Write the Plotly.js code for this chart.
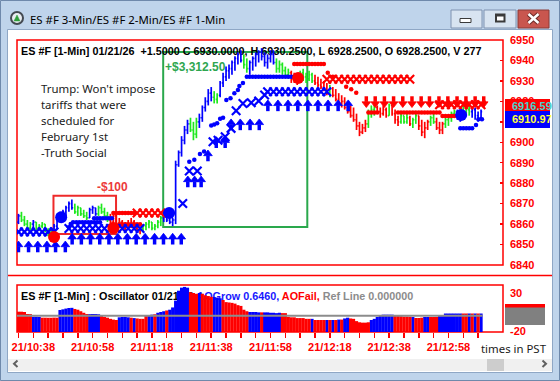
<!DOCTYPE html>
<html>
<head>
<meta charset="utf-8">
<script src="https://cdn.plot.ly/plotly-3.0.1.min.js"></script>
<style>
html,body{margin:0;padding:0;background:#bfd4eb;overflow:hidden;}
#chart{width:560px;height:381px;}
</style>
</head>
<body>
<div id="chart"></div>
<script>
// ================= DATA =================
const windowTitle = 'ES #F 3-Min/ES #F 2-Min/ES #F 1-Min';
const priceHeader = 'ES #F [1-Min] 01/21/26\u00a0 +1.5000 C 6930.0000, H 6930.2500, L 6928.2500, O 6928.2500, V 277';
const oscName = 'ES #F [1-Min] : Oscillator 01/21/26';
const oscGrowLabel = 'AOGrow 0.6460,';
const oscFailLabel = 'AOFail,';
const oscRefLabel = 'Ref Line 0.000000';
const newsLines = ["Trump: Won't impose", 'tariffs that were', 'scheduled for', 'February 1st', '-Truth Social'];
const timezoneNote = 'times in PST';
const sessionStart = '10:33';
const timeTickLabels = ['21/10:38','21/10:58','21/11:18','21/11:38','21/11:58','21/12:18','21/12:38','21/12:58'];
const oscScaleTicks = [30, -20];
const lastValues = ['6916.59', '6910.97'];

// 1-minute bars (one per minute from sessionStart)
const barOpen = [
6861,6864,6862,6860,6858,6860,6861,6858,6859,6860,
6857,6855,6856,6859,6864,6862,6866,6868,6870,6868,
6866,6868,6865,6864,6863,6867,6868,6865,6868,6866,
6864,6862,6861,6864,6860,6861,6858,6860,6859,6861,
6858,6857,6858,6859,6860,6861,6858,6859,6861,6863,
6865,6862,6861,6862,6889,6895,6901,6906,6909,6906,
6904,6910,6912,6917,6920,6924,6922,6921,6923,6929,
6932,6935,6936,6939,6941,6943,6940,6938,6936,6939,
6941,6943,6944,6942,6939,6941,6943,6939,6936,6938,
6935,6933,6934,6931,6932,6930,6934,6932,6931,6933,
6930,6929,6928,6927,6926,6924,6926,6923,6921,6919,
6920,6917,6915,6913,6911,6908,6905,6907,6909,6914,
6916,6917,6915,6914,6916,6913,6918,6914,6911,6910,
6913,6910,6912,6909,6911,6913,6908,6905,6907,6910,
6912,6910,6907,6906,6909,6911,6912,6914,6915,6913,
6914,6917,6916,6915,6916,6913,6912];
const barHigh = [
6865,6866,6864,6862,6861,6862,6861,6860,6861,6860,
6858,6857,6860,6865,6866,6867,6869,6871,6872,6870,
6869,6868,6867,6866,6868,6869,6868,6869,6870,6868,
6866,6865,6866,6865,6863,6862,6861,6862,6863,6862,
6860,6859,6860,6861,6862,6861,6860,6862,6864,6866,
6866,6865,6863,6891,6896,6903,6908,6911,6912,6910,
6912,6914,6918,6922,6926,6927,6925,6924,6930,6934,
6937,6938,6940,6942,6944,6945,6943,6941,6940,6942,
6944,6945,6946,6944,6943,6945,6945,6941,6940,6939,
6937,6936,6935,6934,6933,6935,6936,6934,6935,6934,
6933,6932,6931,6930,6929,6928,6927,6926,6924,6923,
6922,6920,6918,6917,6914,6910,6909,6911,6916,6918,
6919,6918,6917,6918,6917,6919,6918,6916,6913,6914,
6913,6914,6913,6912,6914,6913,6911,6910,6911,6913,
6914,6912,6910,6910,6912,6913,6915,6916,6916,6915,
6918,6919,6918,6917,6917,6915,6916];
const barLow = [
6860,6861,6859,6857.5,6857,6858,6857,6857,6858,6856,
6854,6853.5,6854,6858,6861,6862,6864,6866,6867,6865,
6864,6864,6863,6862,6863,6865,6864,6864,6865,6863,
6861,6860,6859,6858,6858,6857,6857,6858,6858,6857,
6856,6855,6856,6857,6858,6857,6857,6858,6859,6861,
6861,6860,6859,6860,6888,6893,6899,6904,6905,6901,
6902,6907,6910,6915,6918,6920,6919,6919,6922,6927,
6930,6931,6933,6935,6938,6939,6936,6934,6933,6935,
6937,6939,6940,6937,6936,6939,6938,6934,6934,6933,
6932,6931,6929,6929,6928,6929,6930,6929,6930,6929,
6928,6927,6926,6925,6923,6922,6922,6920,6918,6917,
6916,6914,6912,6910,6906,6903,6904,6905,6907,6912,
6913,6914,6912,6913,6912,6913,6913,6909,6908,6909,
6909,6909,6908,6907,6909,6906,6903,6902,6906,6908,
6909,6906,6904,6904,6907,6908,6910,6912,6911,6910,
6913,6914,6913,6912,6911,6910,6911];
const barClose = [
6864,6862,6860,6858,6860,6861,6858,6859,6860,6857,
6855,6856,6859,6864,6862,6866,6868,6870,6868,6866,
6868,6865,6864,6863,6867,6868,6865,6868,6866,6864,
6862,6861,6864,6860,6861,6858,6860,6859,6861,6858,
6857,6858,6859,6860,6861,6858,6859,6861,6863,6865,
6862,6861,6862,6889,6895,6901,6906,6909,6906,6904,
6910,6912,6917,6920,6924,6922,6921,6923,6929,6932,
6935,6936,6939,6941,6943,6940,6938,6936,6939,6941,
6943,6944,6942,6939,6941,6943,6939,6936,6938,6935,
6933,6934,6931,6932,6930,6934,6932,6931,6933,6930,
6929,6928,6927,6926,6924,6926,6923,6921,6919,6920,
6917,6915,6913,6911,6908,6905,6907,6909,6914,6916,
6917,6915,6914,6916,6913,6918,6914,6911,6910,6913,
6910,6912,6909,6911,6913,6908,6905,6907,6910,6912,
6910,6907,6906,6909,6911,6912,6914,6915,6913,6914,
6917,6916,6915,6916,6913,6912,6915];
// bar state: b = strong up, g = up, r = down
const barState = (
'bggggbgggg'+'ggbbbbbbbg'+'ggggbbbggg'+'grrrrrrrrr'+'rrgggggggb'+
'bbbbbbbbgg'+'gbbbbbggbb'+'bbbbbbggbb'+'bbbbbbbggg'+'ggrrrggggg'+
'rrrrrgrrrr'+'rrrrrrrrgg'+'grrrrgrrrg'+'ggrggrrrrg'+'grrrggggbb'+
'gggbbbb').split('');

// oscillator
const oscValue = [
5.4,5.4,5,2.4,2.2,-1.2,-1.2,-1.4,-2.5,-2.5,
-2.6,-2.6,-2.4,-2.5,7.6,8.5,9.5,10.3,10.5,9,
8,6,4,2.4,2.2,2.4,2.3,2,0,-1.5,
-2.5,-4,-5,-5.5,-2,-1.5,-1.5,-2,-2.5,-3,
-3.5,-4,-4,0.5,1,1.5,2,4,5,6,
7,8,11,20,33,37,38,37,31,30,
29,30,29,27,26,25,24.7,24,23,20.8,
18,17.5,17,16,14,13,8,6,5,5,
5,4.5,4.5,4.5,4.5,4,4,3.5,4,3.5,
3.5,-1.5,-2,-2,-3,-3,-3,-4,-4,-4,
-5.5,-5.5,-5.5,-5.5,-5.5,-5.5,-5.5,-5.5,-5,-5,
-3.5,-2.5,-3.5,-4,-7,-8.5,-9,-9,-8.5,-5.5,
-4,-1.5,0.5,1.5,1.5,1.5,1.5,1,-0.3,-0.5,
-1,-1,-1.2,-1.6,-2.9,-2.9,-2.5,-1.6,-1.6,-1.6,
-1.6,-1.5,-0.3,0,3,3,3,3,3,3,
3,3,3,3,3,3,3];
const oscState = (
'rrrrrbbbrr'+'rrrrbbbbbr'+'rrrrbbbbrr'+'rrrrbbbbrb'+'rrrrbbrbbb'+
'rbbbbbbbrr'+'rbrrrrbbbr'+'rrrrrrrrbb'+'bbrbbbbbbr'+'rrrrrrrrrb'+
'rrrrbrbrbr'+'bbrrrrrrrb'+'bbbbbbbrrr'+'rrrbrrrbbr'+'rrbbbbbbbb'+
'rrbrbrb').split('');

// signal markers (minute, price)
const buyArrowTime = [0,3.4,6.5,9.6,12.5,15.8, 18.1,21.2,24.3,27.4,30.5,33.5,36.7,39.7,42.7,45.9,48.9,52,54.9,
  57.1,59.4,61.6, 63.9,66.7,69.7, 71.7,74.8,78.1,81.2, 84.1,87.5,90.9,94.2,97.6,101,104.4,107.8,111.2];
const buyArrowPrice = [6851.7,6851.7,6851.7,6851.7,6851.7,6851.7,
  6855.5,6855.5,6855.5,6855.5,6855.5,6855.5,6855.5,6855.5,6855.5,6855.5,6855.5,6855.5,6855.5,
  6883.5,6883.5,6883.5, 6896.2,6902.7,6902.7, 6911.4,6911.4,6911.4,6911.4,
  6920.7,6920.7,6920.7,6920.7,6920.7,6920.7,6920.7,6920.7,6920.7];
const sellArrowTime = [117.3,120.3,123.4,126.5,129.6,132.7,135.8,138.6,141.8,144.8,147.9,150.9,154,156.9];
const sellArrowPrice = [6917,6917,6917,6917,6917,6917,6917,6917,6917,6917,6917,6917,6917,6917];

const blueCrossTime = [0,2,4,6,8,10,12, 17,19,21,23,25,27,29,31,33,35,37,39,41,
  55.4,57.6,60.3,65.6,67.3,69.7,71.7,73.4,75.7,78.5,81,83,
  84,86,88,90,92,94,96,98,100,102,104];
const blueCrossPrice = [6856.2,6856.2,6856.2,6856.2,6856.2,6856.2,6856.2,
  6857.8,6857.8,6857.8,6857.8,6857.8,6857.8,6857.8,6857.8,6857.8,6857.8,6857.8,6857.8,6857.8,
  6870.1,6886,6886,6900.3,6901,6902.7,6906.8,6915.4,6919,6919.3,6920.2,6923.1,
  6924.7,6924.7,6924.7,6924.7,6924.7,6924.7,6924.7,6924.7,6924.7,6924.7,6924.7];
const redCrossTime = [40,42,44,46,48, 104,106,108,110,112,114,116,118,120,122,124,126,128,130,132,
  142,144,146,148,150,152,154,156];
const redCrossPrice = [6865.4,6865.4,6865.4,6865.4,6865.4,
  6930.8,6930.8,6930.8,6930.8,6930.8,6930.8,6930.8,6930.8,6930.8,6930.8,6930.8,6930.8,6930.8,6930.8,6930.8,
  6918.3,6918.3,6918.3,6918.3,6918.3,6918.3,6918.3,6918.3];

const blueDotTime = [17,17.6,18.4,19.5,20.5,21.5,22.5,23.5,24.5,25.5,26.5,27.5,
  25.5,26.5,27.5,28.5,29.5,30.5,31.5,
  57.6,59.3,61.2,62.6,65,66,67,68,69,70.1,71.5,72.8,74,74.5,75.7,
  77,78,79,80,81,82,83,84,85,86,87,88,89,90,91,92,93,
  149,150,151,152,153,154.3,155.1,156.3];
const blueDotPrice = [6858.5,6860,6860.9,6860.9,6860.9,6860.9,6860.9,6860.9,6860.9,6860.9,6860.9,6860.9,
  6862.8,6862.8,6862.8,6862.8,6862.8,6862.8,6862.8,
  6890.5,6891.5,6894.3,6895.5,6908.2,6908.7,6909.3,6911.5,6912,6920.7,6921.5,6924,6925.5,6927.5,6929,
  6932,6932,6932,6932,6932,6932,6932,6932,6932,6932,6932,6932,6932,6932,6932,6932,6932,
  6906.8,6906.8,6906.8,6906.8,6906.8,6908.4,6911.2,6911.2];
const redDotTime = [32,33,34,35,36,37,38,39, 34,35,36,37,38,39,40,41,
  93,94,95,96,97,98,99,100,101,102,103,
  104.3,106,110.5,112.2,113.9,
  118,119,120,121, 128,129,130,131,132,133,134,135,136,137,138,139,140,141,142,
  143,144,145,146,147];
const redDotPrice = [6865.4,6865.4,6865.4,6865.4,6865.4,6865.4,6865.4,6865.4,
  6859.9,6859.9,6859.9,6859.9,6859.9,6859.9,6859.9,6859.9,
  6938.3,6938.3,6938.3,6938.3,6938.3,6938.3,6938.3,6938.3,6938.3,6938.3,6938.3,
  6934,6932,6927.2,6925.9,6924.2,
  6914.5,6914.5,6914.5,6914.5, 6914.5,6914.5,6914.5,6914.5,6914.5,6914.5,6914.5,6914.5,6914.5,6914.5,6914.5,6914.5,6914.5,6914.5,6914.5,
  6912.8,6912.8,6912.8,6912.8,6912.8];

const exitSignalTime = [12, 32, 94.3];
const exitSignalPrice = [6853.7, 6858.1, 6931.4];
const entrySignalTime = [14.4, 50.8, 149.3];
const entrySignalPrice = [6863.4, 6865.4, 6913.3];

// trades
const tradeStart = [11.8, 48.8];
const tradeEnd = [32.9, 97.4];
const tradeTop = [6873.9, 6944.1];
const tradeBottom = [6855.1, 6858.6];
const tradeResult = ['-$100', '+$3,312.50'];

// ================= GEOMETRY / STYLE =================
const W = 560, H = 381;
const PX = {l: 17, r: 503, mainT: 40, mainB: 265, oscT: 285, oscB: 332};
const xRange = [-0.5, 163.4];
const priceRange = [6840, 6950];
const oscRange = [-21.3, 40.5];
const BLUE = '#0000ff', GREEN = '#1ee81e', RED = '#ff0000';
const BOLD = 'Liberation Sans, Arial, sans-serif';
const UI = 'Segoe UI, Noto Sans, Open Sans, sans-serif';

const px2x = v => v / W;
const py2y = v => 1 - v / H;
const tAt = px => xRange[0] + (px - PX.l) / (PX.r - PX.l) * (xRange[1] - xRange[0]);
const pAt = py => priceRange[1] - (py - PX.mainT) / (PX.mainB - PX.mainT) * (priceRange[1] - priceRange[0]);
const oAt = py => oscRange[1] - (py - PX.oscT) / (PX.oscB - PX.oscT) * (oscRange[1] - oscRange[0]);
const pricePerPx = (priceRange[1] - priceRange[0]) / (PX.mainB - PX.mainT);
const minPerPx = (xRange[1] - xRange[0]) / (PX.r - PX.l);

const minute = barOpen.map((_, i) => i);
const toMin = s => { const [h, m] = s.split(':').map(Number); return h * 60 + m; };
const startMin = toMin(sessionStart);
const labelAt = {};
timeTickLabels.forEach(l => { labelAt[toMin(l.split('/')[1]) - startMin] = l; });
const tickVals = [];
for (let m = 0; m <= 155; m += 5) tickVals.push(m);
const tickText = tickVals.map(m => labelAt[m] || '');

// ================= TRACES =================
const traces = [];
function seg(xs, ys, color, width, xa, ya) {
  return {type: 'scatter', mode: 'lines', xaxis: xa, yaxis: ya, x: xs, y: ys, connectgaps: false,
    line: {color, width}, hoverinfo: 'skip'};
}
// header texts (drawn first, beneath the marks)
traces.push({type: 'scatter', mode: 'text', xaxis: 'x2', yaxis: 'y', x: [tAt(21)], y: [pAt(52.5)],
  text: ['<b>' + priceHeader + '</b>'], textposition: 'middle right', cliponaxis: false, hoverinfo: 'skip',
  textfont: {family: BOLD, size: 10.8, color: '#000000'}});
traces.push({type: 'scatter', mode: 'text', xaxis: 'x', yaxis: 'y2', x: [tAt(21)], y: [oAt(297.5)],
  text: ['<b>' + oscName + ' <span style="color:#1818ff">' + oscGrowLabel + '</span> <span style="color:#ff0000">' +
    oscFailLabel + '</span> <span style="color:#8c8c8c">' + oscRefLabel + '</span></b>'],
  textposition: 'middle right', cliponaxis: false, hoverinfo: 'skip',
  textfont: {family: BOLD, size: 10.8, color: '#000000'}});

// price bars (high-low stem, open tick left, close tick right) by state
const tickHalf = 1.1 * minPerPx;
[['b', BLUE], ['g', GREEN], ['r', RED]].forEach(([s, c]) => {
  const xs = [], ys = [];
  minute.forEach(i => {
    if (barState[i] !== s) return;
    xs.push(i, i, null, i - tickHalf, i, null, i, i + tickHalf, null);
    ys.push(barLow[i], barHigh[i], null, barOpen[i], barOpen[i], null, barClose[i], barClose[i], null);
  });
  traces.push(seg(xs, ys, c, 1.7, 'x2', 'y'));
});

function pts(x, y, marker) {
  return {type: 'scatter', mode: 'markers', xaxis: 'x2', yaxis: 'y', x, y, marker, hoverinfo: 'skip', cliponaxis: true};
}
traces.push(pts(blueDotTime, blueDotPrice, {symbol: 'circle', size: 4.5, color: BLUE, line: {width: 0}}));
traces.push(pts(redDotTime, redDotPrice, {symbol: 'circle', size: 4.5, color: RED, line: {width: 0}}));
traces.push(pts(blueCrossTime, blueCrossPrice, {symbol: 'x-thin', size: 8.5, line: {width: 2.2, color: BLUE}}));
traces.push(pts(redCrossTime, redCrossPrice, {symbol: 'x-thin', size: 8.5, line: {width: 2.2, color: RED}}));
// arrows: head triangle + stem
const headSize = 7.5, headR = headSize / 2;
const headOff = headR * pricePerPx;
const stemOff = (headR * 1.5 + 2.8) * pricePerPx;
traces.push(pts(buyArrowTime, buyArrowPrice.map(p => p - stemOff), {symbol: 'line-ns', size: 4, line: {width: 3.5, color: BLUE}}));
traces.push(pts(buyArrowTime, buyArrowPrice.map(p => p - headOff), {symbol: 'triangle-up', size: headSize, color: BLUE, line: {width: 0.8, color: BLUE}}));
traces.push(pts(sellArrowTime, sellArrowPrice.map(p => p + stemOff), {symbol: 'line-ns', size: 4, line: {width: 3.5, color: RED}}));
traces.push(pts(sellArrowTime, sellArrowPrice.map(p => p + headOff), {symbol: 'triangle-down', size: headSize, color: RED, line: {width: 0.8, color: RED}}));
traces.push(pts(exitSignalTime, exitSignalPrice, {symbol: 'circle', size: 12, color: RED, line: {width: 0}}));
traces.push(pts(entrySignalTime, entrySignalPrice, {symbol: 'circle', size: 12, color: BLUE, line: {width: 0}}));

// oscillator histogram as vertical strokes from the panel bottom
const barPx = 1 / minPerPx;
[['b', BLUE], ['r', RED]].forEach(([s, c]) => {
  const xs = [], ys = [];
  minute.forEach(i => {
    if (oscState[i] !== s) return;
    xs.push(i, i, null);
    ys.push(oscRange[0], oscValue[i], null);
  });
  traces.push(seg(xs, ys, c, barPx + 0.2, 'x', 'y2'));
});

// ================= SHAPES =================
function rectPx(x0, y0, x1, y1, fill, line, lw, layer) {
  return {type: 'rect', xref: 'paper', yref: 'paper', x0: px2x(x0), x1: px2x(x1), y0: py2y(y1), y1: py2y(y0),
    fillcolor: fill || 'rgba(0,0,0,0)', line: {color: line || 'rgba(0,0,0,0)', width: line ? (lw || 1) : 0}, layer: layer || 'below'};
}
function linePx(x0, y0, x1, y1, color, w, layer) {
  return {type: 'line', xref: 'paper', yref: 'paper', x0: px2x(x0), x1: px2x(x1), y0: py2y(y0), y1: py2y(y1),
    line: {color, width: w}, layer: layer || 'below'};
}
function pathPx(points, color, w, fill, layer) {
  const d = points.map((p, i) => (i ? 'L' : 'M') + px2x(p[0]).toFixed(5) + ',' + py2y(p[1]).toFixed(5)).join(' ') + (fill ? ' Z' : '');
  return {type: 'path', xref: 'paper', yref: 'paper', path: d, line: {color, width: w}, fillcolor: fill || 'rgba(0,0,0,0)', layer: layer || 'below'};
}
const shapes = [
  rectPx(8, 30, 552, 372, '#ffffff'),
  rectPx(7.5, 29.5, 552.5, 372.5, null, '#8fa7c5', 1),
  rectPx(0.5, 0.5, 559.5, 380.5, null, '#6f89ab', 1),
  linePx(8, 275.5, 552, 275.5, RED, 1.5),
  rectPx(PX.l, PX.mainT, PX.r, PX.mainB, null, RED, 1.5),
  rectPx(PX.l, PX.oscT, PX.r, PX.oscB, null, RED, 1.5),
  rectPx(8, 359, 552, 371, '#f0f0f0'),
  rectPx(487, 359, 504, 371, '#cdcdcd'),
  pathPx([[17.5, 360.5], [14, 363.7], [17.5, 367]], '#606060', 2),
  pathPx([[542.5, 360.5], [546, 363.7], [542.5, 367]], '#606060', 2),
  rectPx(505, 304, 545, 325, '#808080'),
  rectPx(505, 304, 545, 307.5, RED),
  rectPx(505, 99, 550, 111, RED, null, 0, 'above'),
  rectPx(505, 111, 550, 128, BLUE, null, 0, 'above'),
  // caption buttons
  rectPx(451, 10, 482, 28, '#d8e4f1', '#7e92b0', 1),
  rectPx(484, 10, 516, 28, '#d8e4f1', '#7e92b0', 1),
  rectPx(518, 10, 549, 28, '#c9564e', '#8b3a36', 1),
  rectPx(460, 18.5, 471, 22.5, '#ffffff', '#3a3a3a', 1),
  rectPx(495, 13.5, 505.5, 22.5, '#3a3a3a'),
  rectPx(497, 16.5, 503.5, 20.5, '#ffffff'),
  pathPx([[528.5, 14], [538.5, 23]], '#6b2a26', 4.5),
  pathPx([[538.5, 14], [528.5, 23]], '#6b2a26', 4.5),
  pathPx([[528.5, 14], [538.5, 23]], '#ffffff', 2.5),
  pathPx([[538.5, 14], [528.5, 23]], '#ffffff', 2.5),
  // app icon
  {type: 'circle', xref: 'paper', yref: 'paper', x0: px2x(10), x1: px2x(24), y0: py2y(25), y1: py2y(11), fillcolor: '#434951', line: {width: 0}, layer: 'below'},
  {type: 'circle', xref: 'paper', yref: 'paper', x0: px2x(12), x1: px2x(22), y0: py2y(23), y1: py2y(13), fillcolor: '#e8ecf0', line: {width: 0}, layer: 'below'},
  pathPx([[14, 21], [17, 15], [20, 21]], '#2f9e3a', 0.5, '#2f9e3a'),
  // oscillator reference line
  {type: 'line', xref: 'x', yref: 'y2', x0: xRange[0], x1: minute[minute.length - 1] + 0.5, y0: 0, y1: 0,
    line: {color: '#8c8c8c', width: 2}, layer: 'above'}
];
tradeStart.forEach((t, i) => {
  shapes.push({type: 'rect', xref: 'x2', yref: 'y', x0: t, x1: tradeEnd[i], y0: tradeBottom[i], y1: tradeTop[i],
    line: {color: i === 0 ? '#ee2a2a' : '#2aa84c', width: 2}, fillcolor: 'rgba(0,0,0,0)', layer: 'below'});
});

// ================= ANNOTATIONS =================
function label(text, x, y, font, anchor) {
  return {xref: 'paper', yref: 'paper', x: px2x(x), y: py2y(y), text, showarrow: false,
    xanchor: anchor || 'left', yanchor: 'middle', align: 'left', font, borderpad: 0};
}
const annotations = [
  label(windowTitle, 29, 19.5, {family: UI, size: 11.4, color: '#000000'}),
  label('<b>' + tradeResult[0] + '</b>', 96, 187, {family: BOLD, size: 12, color: '#ec3a3a'}),
  label('<b>' + tradeResult[1] + '</b>', 164, 66.5, {family: BOLD, size: 12, color: '#2ea64f'}),
  label('<b>' + lastValues[0] + '</b>', 511, 106, {family: BOLD, size: 11, color: '#46d2cc'}),
  label('<b>' + lastValues[1] + '</b>', 511, 119.5, {family: BOLD, size: 11, color: '#ffff3c'}),
  label(timezoneNote, 480, 348, {family: UI, size: 11.4, color: '#1a1a1a'})
];
newsLines.forEach((s, i) => annotations.push(label(s, 39.5, 88 + i * 16.1, {family: UI, size: 11.4, color: '#1a1a1a'})));

// ================= LAYOUT =================
const tickFont = {family: BOLD, size: 11, color: RED, weight: 'bold'};
const layout = {
  width: W, height: H, margin: {l: 0, r: 0, t: 0, b: 0, pad: 0}, autosize: false,
  paper_bgcolor: '#bfd4eb', plot_bgcolor: 'rgba(0,0,0,0)', showlegend: false,
  xaxis: {domain: [px2x(PX.l), px2x(PX.r)], range: xRange, autorange: false, anchor: 'y2', showgrid: false, zeroline: false, showline: false,
    tickmode: 'array', tickvals: tickVals, ticktext: tickText, ticks: 'outside', ticklen: 5, tickwidth: 1.5, tickcolor: RED,
    tickfont: tickFont, fixedrange: true, automargin: false},
  xaxis2: {domain: [px2x(PX.l), px2x(PX.r)], range: xRange, autorange: false, anchor: 'y', showgrid: false, zeroline: false,
    showticklabels: false, ticks: '', showline: false, fixedrange: true, automargin: false},
  yaxis: {domain: [py2y(PX.mainB), py2y(PX.mainT)], range: priceRange, autorange: false, anchor: 'x2', side: 'right',
    tick0: 6840, dtick: 10, ticks: 'inside', ticklen: 3, tickwidth: 1.5, tickcolor: RED, tickfont: tickFont,
    ticklabelstandoff: 6, showgrid: false, zeroline: false, showline: false, fixedrange: true, automargin: false},
  yaxis2: {domain: [py2y(PX.oscB), py2y(PX.oscT)], range: oscRange, autorange: false, anchor: 'x', side: 'right',
    tickmode: 'array', tickvals: oscScaleTicks, ticktext: oscScaleTicks.map(String), ticks: '', tickfont: tickFont,
    ticklabelstandoff: 6, showgrid: false, zeroline: false, showline: false, fixedrange: true, automargin: false},
  shapes, annotations
};

Plotly.newPlot('chart', traces, layout, {staticPlot: true, displayModeBar: false});
</script>
</body>
</html>
